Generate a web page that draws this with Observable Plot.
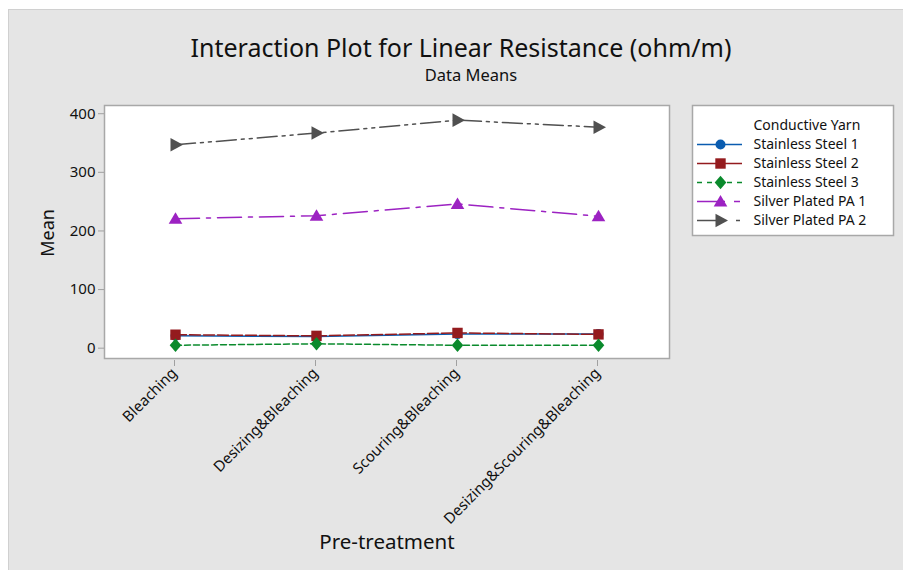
<!DOCTYPE html>
<html>
<head>
<meta charset="utf-8">
<script src="https://cdn.jsdelivr.net/npm/d3@7"></script>
<script src="https://cdn.jsdelivr.net/npm/@observablehq/plot@0.6"></script>
<style>
  html, body { margin: 0; padding: 0; background: #ffffff; }
  #wrap { position: relative; width: 903px; height: 570px; overflow: hidden; font-family: "Noto Sans", sans-serif; color: #111; }
  #bg { position: absolute; left: 8px; top: 9px; right: 0; bottom: 0; background: #e5e5e5; border-left: 1px solid #d0d0d0; border-top: 1px solid #d0d0d0; }
  .abs { position: absolute; white-space: nowrap; }
  #title { left: 0; width: 922px; top: 32px; text-align: center; font-size: 25px; line-height: 30px; }
  #subtitle { left: 0; width: 942px; top: 64px; text-align: center; font-size: 16.5px; line-height: 22px; }
  #ylabel { left: 47px; top: 233px; font-size: 18px; transform: translate(-50%, -50%) rotate(-90deg); }
  #xlabel { left: 387px; top: 541px; font-size: 20.5px; transform: translate(-50%, -50%); }
  #chart, #legend { position: absolute; }
  #chart { left: 0; top: 0; }
  #legend { left: 692px; top: 105px; }
</style>
</head>
<body>
<div id="wrap">
  <div id="bg"></div>
  <div id="chart"></div>
  <div id="legend"></div>
  <div class="abs" id="title">Interaction Plot for Linear Resistance (ohm/m)</div>
  <div class="abs" id="subtitle">Data Means</div>
  <div class="abs" id="ylabel">Mean</div>
  <div class="abs" id="xlabel">Pre-treatment</div>
</div>
<script>
// ---- data ----
const categories = ["Bleaching", "Desizing&Bleaching", "Scouring&Bleaching", "Desizing&Scouring&Bleaching"];
const seriesNames = ["Stainless Steel 1", "Stainless Steel 2", "Stainless Steel 3", "Silver Plated PA 1", "Silver Plated PA 2"];
const ss1 = [21, 20, 24, 24];
const ss2 = [23, 21, 26, 23.5];
const ss3 = [5, 7.5, 5, 5];
const sp1 = [221, 226, 246, 225];
const sp2 = [347, 367, 389, 377];
const yTicks = [0, 100, 200, 300, 400];
const legendTitle = "Conductive Yarn";

// ---- styles ----
function polySymbol(pts) {
  // pts in pixel units for r = 6
  return {
    draw(ctx, size) {
      const k = Math.sqrt(size / Math.PI) / 6;
      ctx.moveTo(pts[0][0] * k, pts[0][1] * k);
      for (let i = 1; i < pts.length; i++) ctx.lineTo(pts[i][0] * k, pts[i][1] * k);
      ctx.closePath();
    }
  };
}
const symSquare = polySymbol([[-5.2, -5.2], [5.2, -5.2], [5.2, 5.2], [-5.2, 5.2]]);
const symDiamond = polySymbol([[0, -6.8], [5.8, 0], [0, 6.8], [-5.8, 0]]);
const symTriUp = polySymbol([[0, -6.5], [6.8, 5], [-6.8, 5]]);
const symTriRight = polySymbol([[-5, -6.8], [7.5, 0], [-5, 6.8]]);

const styles = {
  "Stainless Steel 1": {color: "#0a5cb0", dash: null, symbol: "circle", legendDash: null},
  "Stainless Steel 2": {color: "#941b1e", dash: "11,3", symbol: symSquare, legendDash: null},
  "Stainless Steel 3": {color: "#0a8a2c", dash: "6,3", symbol: symDiamond, legendDash: "5,5"},
  "Silver Plated PA 1": {color: "#9c22c2", dash: "24,7,4,7", symbol: symTriUp, legendDash: "28,9,6,30"},
  "Silver Plated PA 2": {color: "#505050", dash: "20,5,3,5,3,5", symbol: symTriRight, legendDash: "27,12,4,30"}
};

const valuesBySeries = {
  "Stainless Steel 1": ss1,
  "Stainless Steel 2": ss2,
  "Stainless Steel 3": ss3,
  "Silver Plated PA 1": sp1,
  "Silver Plated PA 2": sp2
};
const table = seriesNames.flatMap(s => categories.map((c, i) => ({series: s, cat: c, value: valuesBySeries[s][i]})));

const drawOrder = ["Silver Plated PA 2", "Silver Plated PA 1", "Stainless Steel 1", "Stainless Steel 2", "Stainless Steel 3"];
const seriesMarks = [];
for (const s of drawOrder) {
  const st = styles[s];
  const d = table.filter(r => r.series === s);
  seriesMarks.push(Plot.line(d, {x: "cat", y: "value", stroke: st.color, strokeWidth: 1.5, strokeDasharray: st.dash}));
}
for (const s of drawOrder) {
  const st = styles[s];
  const d = table.filter(r => r.series === s);
  seriesMarks.push(Plot.dot(d, {x: "cat", y: "value", fill: st.color, stroke: "none", symbol: st.symbol, r: s === "Stainless Steel 1" ? 5 : 6}));
}

const chart = Plot.plot({
  width: 903,
  height: 570,
  marginLeft: 104,
  marginRight: 234,
  marginTop: 105,
  marginBottom: 212,
  style: {background: "transparent", fontFamily: "Noto Sans, sans-serif", fontSize: "15px", color: "#111", overflow: "visible"},
  x: {type: "point", domain: categories, padding: 0.5, label: null},
  y: {domain: [-17.6, 414], label: null},
  marks: [
    Plot.frame({fill: "white", stroke: "none"}),
    ...seriesMarks,
    Plot.frame({stroke: "#a8a8a8", strokeWidth: 1.5}),
    Plot.axisY({ticks: yTicks, tickSize: 6, tickPadding: 3, stroke: "#a0a0a0", fill: "#111", fontSize: 15, label: null}),
    Plot.axisX({tickRotate: -45, tickSize: 6, tickPadding: 4, stroke: "#a0a0a0", fill: "#111", fontSize: 15, label: null, dx: -1, dy: 2})
  ]
});
document.getElementById("chart").appendChild(chart);

// ---- legend ----
const legendRows = [legendTitle, ...seriesNames];
const legendMarks = [
  Plot.frame({fill: "white", stroke: "#a8a8a8", strokeWidth: 1.5})
];
for (const s of seriesNames) {
  const st = styles[s];
  legendMarks.push(Plot.ruleY([s], {y: d => d, x1: 5, x2: 50, stroke: st.color, strokeWidth: 1.5, strokeDasharray: st.legendDash}));
}
for (const s of seriesNames) {
  const st = styles[s];
  legendMarks.push(Plot.dot([s], {y: d => d, x: 28, fill: st.color, stroke: "none", symbol: st.symbol, r: s === "Stainless Steel 1" ? 5 : 6}));
}
legendMarks.push(Plot.text(legendRows, {y: d => d, x: 61, text: d => d, textAnchor: "start", fill: "#111", fontSize: 14}));

const legend = Plot.plot({
  width: 201,
  height: 130,
  margin: 0,
  style: {background: "transparent", fontFamily: "Noto Sans, sans-serif", fontSize: "14px", overflow: "visible"},
  x: {type: "linear", domain: [0, 201], range: [0, 201], axis: null},
  y: {type: "point", domain: legendRows, range: [18, 117], padding: 0, axis: null},
  marks: legendMarks
});
document.getElementById("legend").appendChild(legend);
</script>
</body>
</html>
